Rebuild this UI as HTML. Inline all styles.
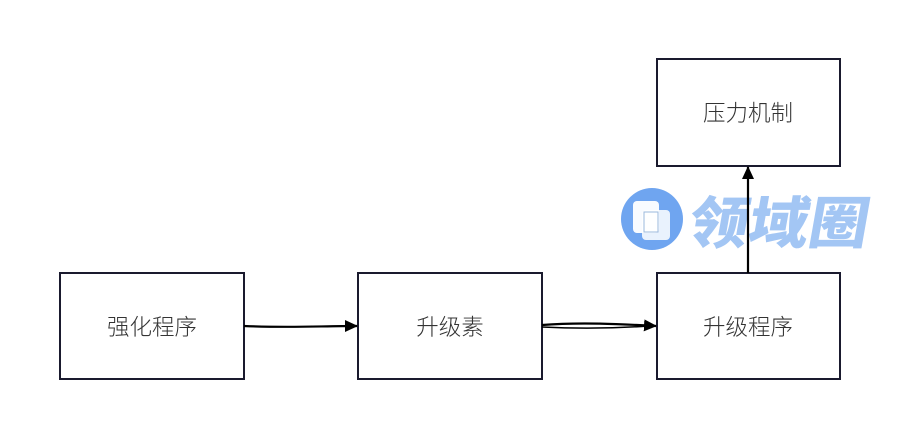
<!DOCTYPE html>
<html><head><meta charset="utf-8">
<style>
html,body{margin:0;padding:0;background:#fff;}
body{width:899px;height:440px;overflow:hidden;}
svg{display:block;}
.t{font-family:"Liberation Sans","Noto Sans CJK SC",sans-serif;font-size:22.5px;font-weight:300;fill:#333;}
.w{font-family:"Liberation Sans","Noto Sans CJK SC",sans-serif;font-size:56px;font-weight:900;fill:#a3c6f4;}
</style></head>
<body>
<svg width="899" height="440" viewBox="0 0 899 440" xmlns="http://www.w3.org/2000/svg">
<defs>
<marker id="ah" markerWidth="13" markerHeight="12" refX="12" refY="6" orient="auto" markerUnits="userSpaceOnUse">
<path d="M0,0 L13,6 L0,12 Z" fill="#000"/>
</marker>
</defs>
<rect x="0" y="0" width="899" height="440" fill="#fff"/>
<!-- watermark -->
<circle cx="652" cy="219" r="31" fill="#6fa5f0"/>
<rect x="633" y="201" width="26" height="32" rx="4" fill="#fff" opacity="0.95"/>
<rect x="642" y="210" width="28" height="30" rx="4" fill="#fff" opacity="0.85"/>
<rect x="644" y="212" width="14" height="20" fill="none" stroke="#9bb8dc" stroke-width="1"/>
<g transform="translate(686,243) skewX(-10)">
<text class="w" x="0" y="0" textLength="180" lengthAdjust="spacingAndGlyphs">领域圈</text>
</g>
<!-- boxes -->
<g fill="none" stroke="#1a1a2e" stroke-width="2">
<rect x="60" y="273" width="184" height="106"/>
<rect x="358" y="273" width="184" height="106"/>
<rect x="657" y="273" width="183" height="106"/>
<rect x="657" y="59" width="183" height="107"/>
</g>
<!-- connectors -->
<g stroke="#000" stroke-width="2.2" fill="none">
<path d="M244,326 C290,328 320,326 357,326" marker-end="url(#ah)"/>
<path d="M542,325 C580,322 620,324 656,326" marker-end="url(#ah)"/>
<path d="M542,327 C580,329 620,328 648,326" stroke-width="1.5"/>
<path d="M748,273 L748,167" marker-end="url(#ah)"/>
</g>
<!-- labels -->
<text class="t" x="152" y="335" text-anchor="middle">强化程序</text>
<text class="t" x="450" y="335" text-anchor="middle">升级素</text>
<text class="t" x="748" y="335" text-anchor="middle">升级程序</text>
<text class="t" x="748" y="121" text-anchor="middle">压力机制</text>
</svg>
</body></html>
